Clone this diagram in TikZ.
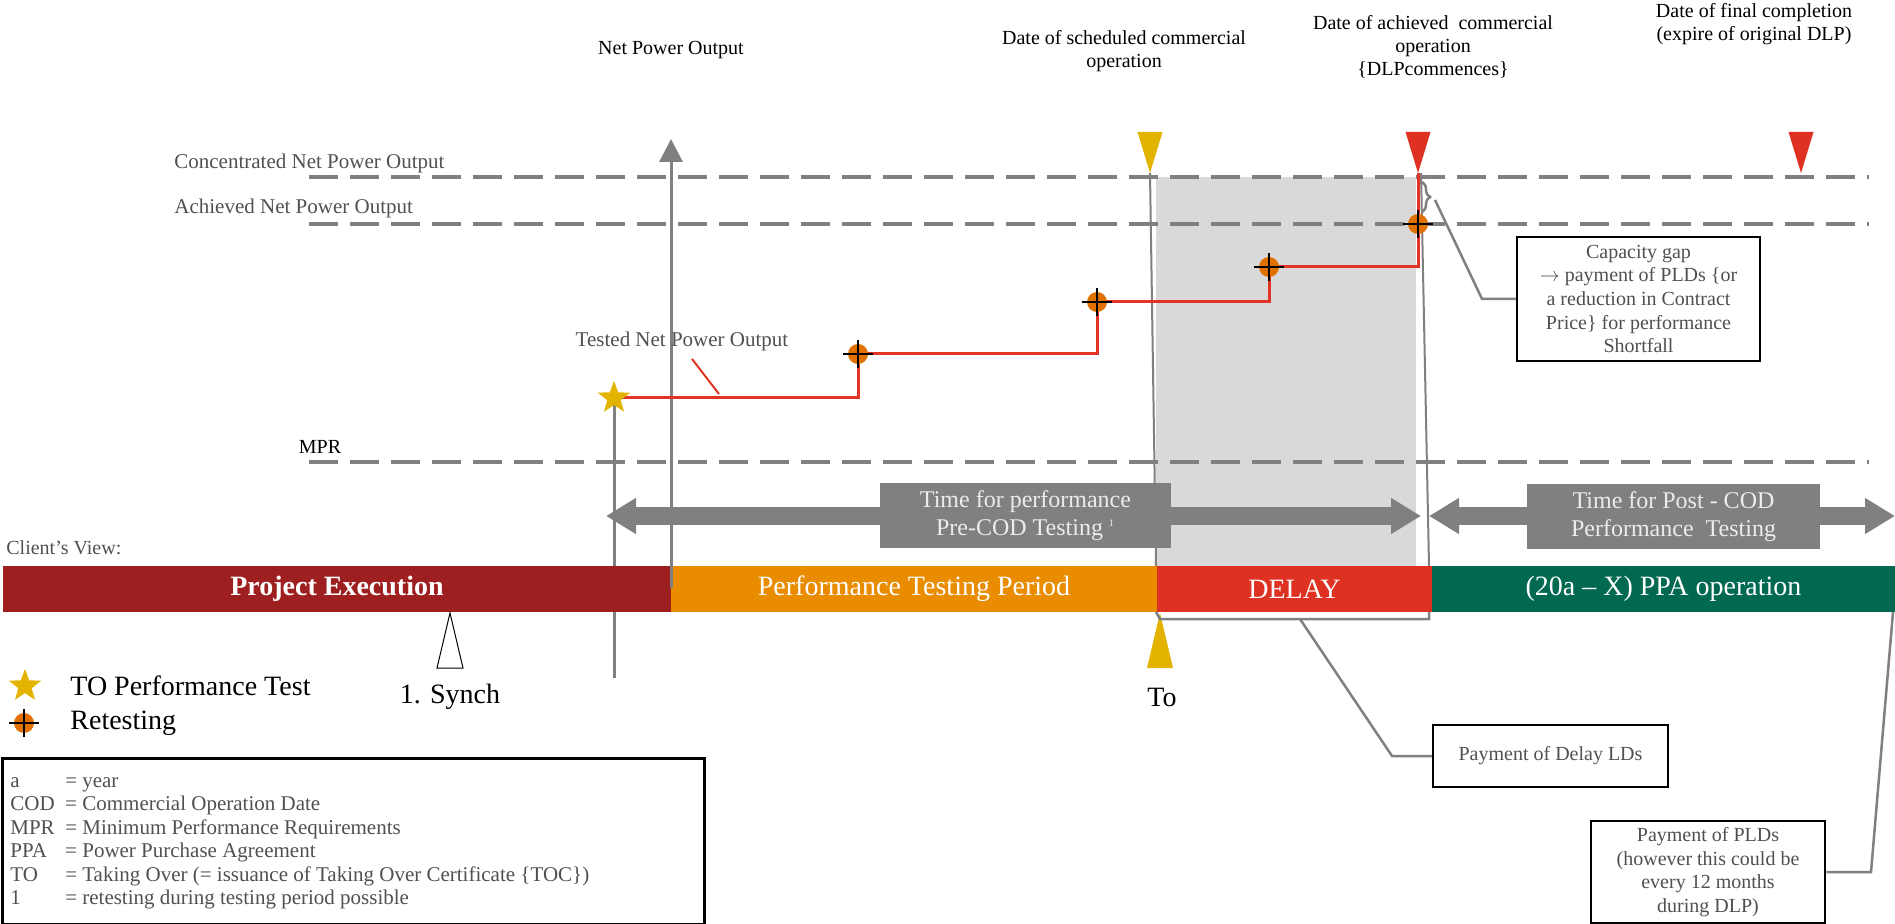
\documentclass[tikz,border=0pt]{standalone}
\usepackage{fontspec}
\setmainfont{Liberation Serif}
\usepackage{tikz}
\usetikzlibrary{arrows.meta,shapes.geometric,decorations.pathreplacing}
\definecolor{PJexec}{RGB}{158,31,32}
\definecolor{PJtest}{RGB}{233,140,0}
\definecolor{PJdelay}{RGB}{222,49,33}
\definecolor{PJppa}{RGB}{0,105,80}
\definecolor{PJgrey}{RGB}{128,128,128}
\definecolor{PJshade}{RGB}{217,217,217}
\definecolor{PJyellow}{RGB}{226,180,0}
\definecolor{PJmarker}{RGB}{224,112,0}
\definecolor{PJline}{RGB}{224,52,36}
\definecolor{PJtext}{RGB}{80,80,80}
\definecolor{PJlight}{RGB}{236,236,236}

\begin{document}
\begin{tikzpicture}[x=0.5pt,y=-0.5pt,
    lbl/.style={font=\fontsize{10}{11.5}\selectfont,align=center,inner sep=0pt},
    greylbl/.style={lbl,text=PJtext},
    biglbl/.style={font=\fontsize{14}{16}\selectfont,inner sep=0pt},
    bar/.style={minimum height=23pt,inner sep=0pt,text=white,font=\fontsize{14}{16}\selectfont},
    refline/.style={PJgrey,line width=1.8pt,dash pattern=on 14.5pt off 6pt},
    thinline/.style={PJgrey,line width=1pt},
    testline/.style={PJline,line width=1.5pt},
    bigarrow/.style={PJgrey,line width=9pt,{Triangle[length=15pt,width=17pt]}-{Triangle[length=15pt,width=17pt]}},
    greybox/.style={fill=PJgrey,text=PJlight,align=center,inner sep=0pt,font=\fontsize{12}{14}\selectfont},
    callout/.style={draw=black,line width=1.25pt,fill=white,text=PJtext,align=center,inner sep=1pt,font=\fontsize{10}{11.8}\selectfont},
    leader/.style={PJgrey,line width=1.25pt},
    tostar/.style={star,star points=5,star point ratio=2.4,fill=PJyellow,inner sep=0pt,minimum size=17pt}]
  \useasboundingbox (0,0) rectangle (1895,924);
  \fill[PJshade] (1156,177) rectangle (1416,566);
  \foreach \y in {177,224,462}{\draw[refline] (309,\y) -- (1869,\y);}
  \coordinate (sched) at (1150,173);
  \coordinate (cod) at (1418,173);
  \coordinate (fin) at (1801,173);
  \coordinate (t0) at (614,398);
  \draw[thinline] (sched) -- (1156,566);
  \draw[thinline] (1421,173) -- (1429,566);
  \draw[PJgrey,line width=1.5pt] (t0) -- (614,678);

  \node[bar,fill=PJexec,minimum width=334pt] (exec) at (337,589) {\textbf{Project Execution}};
  \node[bar,fill=PJtest,minimum width=243pt] (ptest) at (914,589) {Performance Testing Period};
  \node[bar,fill=PJdelay,minimum width=137.5pt] (delay) at (1294.5,589) {DELAY};
  \node[bar,fill=PJppa,minimum width=231.5pt] (ppa) at (1663.5,589) {(20a -- X) PPA operation};

  \draw[PJgrey,line width=1.5pt,-{Triangle[length=11.5pt,width=11.5pt]}] (671,588) -- (671,139);
  \node[lbl] (npo) at (671,50) {Net Power Output};

  \coordinate (r1) at (858,354);
  \coordinate (r2) at (1097,302);
  \coordinate (r3) at (1269,267);
  \coordinate (r4) at (1418,224);
  \coordinate (lr) at (24,723);
  \draw[testline] (t0) -| (r1) -| (r2) -| (r3) -| (cod);
  \foreach \p in {r1,r2,r3,r4,lr}{
    \fill[PJmarker] (\p) circle (5pt);
    \draw[line width=1pt] (\p) +(-15,0) -- +(15,0) (\p) +(0,-14) -- +(0,14);
  }
  \node[tostar] (to) at (t0) {};
  \node[tostar] (lstar) at (25,686) {};
  \foreach \p/\c in {sched/PJyellow,cod/PJdelay,fin/PJdelay}{\fill[\c] (\p) -- ++(-12.5,-41) -- ++(25,0) -- cycle;}

  \coordinate (tomark) at (1160,613);
  \coordinate (synch) at (450,613);
  \fill[PJyellow] (tomark) -- ++(-13,55) -- ++(26,0) -- cycle;
  \draw[fill=white,line width=0.5pt] (synch) -- ++(-13,55) -- ++(26,0) -- cycle;
  \node[biglbl] (tolbl) at (1162,697) {To};
  \node[biglbl] (synchlbl) at (450,697) {1. Synch};

  \draw[bigarrow] (606,516) -- (1421,516);
  \node[greybox,minimum width=145.5pt,minimum height=32.5pt] (pretime) at (1025.5,515.5) {Time for performance\\Pre-COD Testing \textsuperscript{\tiny 1}};
  \draw[bigarrow] (1429,516) -- (1895,516);
  \node[greybox,minimum width=146.5pt,minimum height=32.5pt] (posttime) at (1673.5,516.5) {Time for Post - COD\\Performance\ \ Testing};

  \node[greylbl,anchor=west,font=\fontsize{10.5}{12}\selectfont] (conc) at (174,163) {Concentrated Net Power Output};
  \node[greylbl,anchor=west,font=\fontsize{10.5}{12}\selectfont] (achv) at (174,208) {Achieved Net Power Output};
  \node[lbl] (mpr) at (320,447) {MPR};
  \node[greylbl,font=\fontsize{10.5}{12}\selectfont] (tested) at (682,341) {Tested Net Power Output};
  \draw[PJline,line width=1pt] (tested.south) ++(10,8) -- (719,394);
  \node[greylbl,anchor=west] (client) at (6,548) {Client's View:};

  \node[lbl] (schedlbl) at (1124,51) {Date of scheduled commercial\\operation};
  \node[lbl] (codlbl) at (1433,47) {Date of achieved\ \ commercial\\operation\\\{DLPcommences\}};
  \node[lbl] (finlbl) at (1754,24) {Date of final completion\\(expire of original DLP)};

  \node[callout,minimum width=121.5pt,minimum height=62pt] (capgap) at (1638.5,299) {Capacity gap\\$\rightarrow$ payment of PLDs \{or\\a reduction in Contract\\Price\} for performance\\Shortfall};
  \node[callout,minimum width=117.5pt,minimum height=31pt] (dlyld) at (1550.5,756) {Payment of Delay LDs};
  \node[callout,minimum width=117pt,minimum height=51pt] (pld) at (1708,872) {Payment of PLDs\\(however this could be\\every 12 months\\during DLP)};

  \draw[leader,decorate,decoration={brace,amplitude=4pt}] (1422,182) -- (1422,212);
  \coordinate (gaptip) at (1435,200);
  \draw[leader] (gaptip) -- (1482,299) -- (capgap.west);
  \draw[leader] (1156,612) -- (1160,619) -- (1429,619) -- (1429,612);
  \coordinate (dlytick) at (1300,619);
  \draw[leader] (dlytick) -- (1392,756) -- (dlyld.west);
  \coordinate (pldtip) at (1893,612);
  \draw[leader] (pld.east) -- (1871,872) -- (pldtip);

  \node[biglbl,anchor=west] (lstarlbl) at (70,686) {TO Performance Test};
  \node[biglbl,anchor=west] (lrlbl) at (70,723) {Retesting};
  \node[draw,line width=1.25pt,anchor=north west,minimum width=351pt,minimum height=83pt] (abbr) at (1,757) {};
  \node[anchor=west,inner sep=0pt,text=PJtext,font=\fontsize{10.5}{11.75}\selectfont] (abbrtxt) at ([xshift=4.5pt]abbr.west) {\begin{tabular}{@{}l@{\enspace}l@{}}a & = year\\COD & = Commercial Operation Date\\MPR & = Minimum Performance Requirements\\PPA & = Power Purchase Agreement\\TO & = Taking Over (= issuance of Taking Over Certificate \{TOC\})\\1 & = retesting during testing period possible\end{tabular}};
\end{tikzpicture}
\end{document}
